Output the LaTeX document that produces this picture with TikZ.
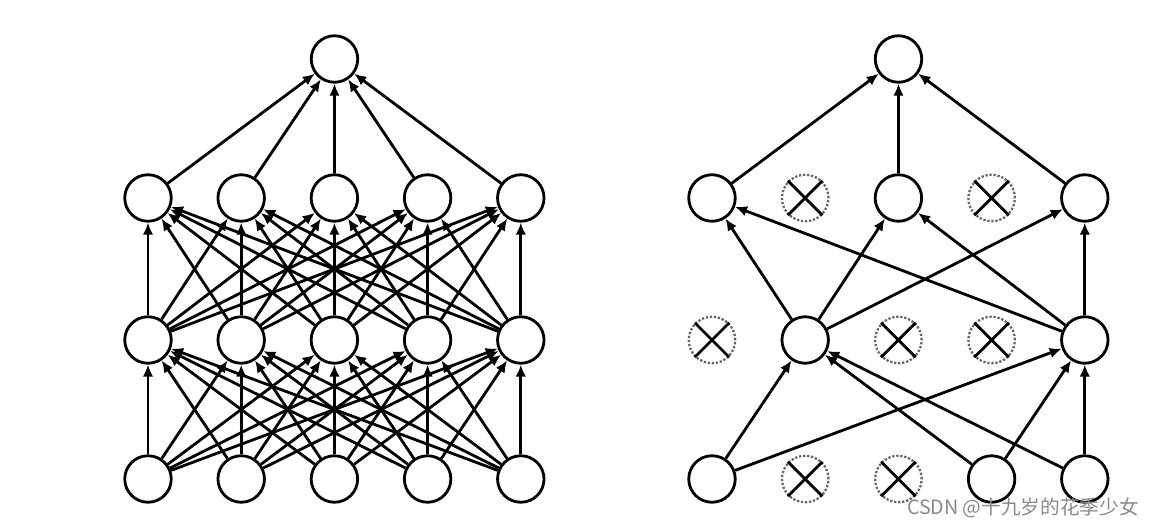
\documentclass[tikz,border=0pt]{standalone}
\usepackage{fontspec}
\newfontfamily\cjk{Noto Sans CJK SC}
\usetikzlibrary{arrows.meta}
\definecolor{ink}{HTML}{000000}
\definecolor{mark}{HTML}{8A8A8A}

\begin{document}
\begin{tikzpicture}[line width=1.6pt,neuron/.style={circle,draw=ink,fill=white,minimum size=9.3mm,inner sep=0pt},dropped/.style={circle,draw=ink!60,densely dotted,line width=1.3pt,minimum size=9.3mm,inner sep=0pt},link/.style={-{Latex[length=2.4mm,width=2.1mm]},ink},crossline/.style={ink,line width=1.6pt}]
 \useasboundingbox (0,0) rectangle (23.08,10.58);
 % standard net
 \foreach \i in {1,...,5}{
  \node[neuron] (a\i) at ({2.96+1.864*(\i-1)},1) {};
  \node[neuron] (b\i) at ({2.96+1.864*(\i-1)},3.78) {};
  \node[neuron] (c\i) at ({2.96+1.864*(\i-1)},6.62) {};}
 \node[neuron] (o) at (6.69,9.4) {};
 \foreach \i in {1,...,5}{\foreach \j in {1,...,5}{
  \draw[link] (a\i)--(b\j);
  \draw[link] (b\i)--(c\j);}}
 \foreach \i in {1,...,5}{\draw[link] (c\i)--(o);}
 % after dropout
 \foreach \i in {1,4,5}{\node[neuron] (ra\i) at ({14.24+1.864*(\i-1)},1) {};}
 \foreach \i in {2,5}{\node[neuron] (rb\i) at ({14.24+1.864*(\i-1)},3.78) {};}
 \foreach \i in {1,3,5}{\node[neuron] (rc\i) at ({14.24+1.864*(\i-1)},6.62) {};}
 \node[neuron] (ro) at (17.97,9.4) {};
 \foreach \l/\y/\d in {ra/1/2,ra/1/3,rb/3.78/1,rb/3.78/3,rb/3.78/4,rc/6.62/2,rc/6.62/4}{
  \node[dropped] (\l\d) at ({14.24+1.864*(\d-1)},\y) {};
  \draw[crossline] (\l\d.45)--(\l\d.225) (\l\d.135)--(\l\d.315);}
 \foreach \i in {1,4,5}{\foreach \j in {2,5}{\draw[link] (ra\i)--(rb\j);}}
 \foreach \i in {2,5}{\foreach \j in {1,3,5}{\draw[link] (rb\i)--(rc\j);}}
 \foreach \i in {1,3,5}{\draw[link] (rc\i)--(ro);}
 \node[text=mark,font=\cjk\fontsize{11.2}{13}\selectfont,inner sep=0pt] (wm) at (20.46,0.42) {CSDN @十九岁的花季少女};
\end{tikzpicture}
\end{document}
